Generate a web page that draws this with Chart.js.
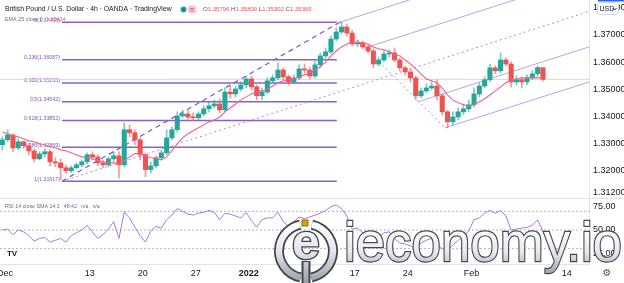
<!DOCTYPE html>
<html>
<head>
<meta charset="utf-8">
<script src="https://cdn.jsdelivr.net/npm/chart.js@4.4.1/dist/chart.umd.min.js"></script>
<style>
  html, body { margin: 0; padding: 0; background: #fff; overflow: hidden; }
  #wrap { position: relative; width: 624px; height: 283px; }
  #priceChart { position: absolute; left: 0; top: 0; }
  #rsiChart { position: absolute; left: 0; top: 198px; }
</style>
</head>
<body>
<div id="wrap">
  <canvas id="priceChart" width="624" height="198"></canvas>
  <canvas id="rsiChart" width="624" height="85"></canvas>
</div>
<script>
(function () {
    'use strict';

    // 12h slots, slot 0 = 1 Dec 2021 morning; first candle is the last half of 30 Nov
    const firstSlot = -1;

    const opens = [
        1.3296, 1.3314, 1.3332, 1.3284, 1.3307, 1.3292, 1.3273, 1.3244, 1.3262, 1.3270,
        1.3233, 1.3229, 1.3211, 1.3200, 1.3211, 1.3222, 1.3233, 1.3259, 1.3251, 1.3229,
        1.3222, 1.3244, 1.3255, 1.3222, 1.3351, 1.3340, 1.3314, 1.3259, 1.3204, 1.3218,
        1.3248, 1.3266, 1.3321, 1.3351, 1.3402, 1.3409, 1.3398, 1.3395, 1.3409, 1.3428,
        1.3439, 1.3446, 1.3424, 1.3490, 1.3483, 1.3501, 1.3516, 1.3538, 1.3509, 1.3476,
        1.3490, 1.3531, 1.3542, 1.3571, 1.3546, 1.3527, 1.3542, 1.3575, 1.3571, 1.3549,
        1.3590, 1.3623, 1.3638, 1.3685, 1.3711, 1.3729, 1.3707, 1.3667, 1.3671, 1.3656,
        1.3641, 1.3593, 1.3608, 1.3630, 1.3634, 1.3608, 1.3579, 1.3564, 1.3542, 1.3476,
        1.3494, 1.3505, 1.3512, 1.3476, 1.3417, 1.3380, 1.3398, 1.3417, 1.3428, 1.3443,
        1.3483, 1.3512, 1.3535, 1.3579, 1.3568, 1.3608, 1.3593, 1.3527, 1.3535, 1.3527,
        1.3542, 1.3557, 1.35796
    ];
    const highs = [
        1.3325, 1.3351, 1.3336, 1.3318, 1.3310, 1.3299, 1.3281, 1.3270, 1.3281, 1.3277,
        1.3248, 1.3244, 1.3222, 1.3218, 1.3229, 1.3240, 1.3266, 1.3270, 1.3259, 1.3240,
        1.3251, 1.3270, 1.3270, 1.3376, 1.3369, 1.3351, 1.3321, 1.3266, 1.3233, 1.3255,
        1.3277, 1.3351, 1.3362, 1.3417, 1.3424, 1.3421, 1.3413, 1.3417, 1.3439, 1.3454,
        1.3461, 1.3465, 1.3505, 1.3512, 1.3512, 1.3527, 1.3549, 1.3549, 1.3516, 1.3505,
        1.3542, 1.3553, 1.3597, 1.3579, 1.3553, 1.3553, 1.3590, 1.3593, 1.3582, 1.3604,
        1.3634, 1.3652, 1.3696, 1.3726, 1.3748, 1.3740, 1.3718, 1.3682, 1.3678, 1.3663,
        1.3649, 1.3619, 1.3641, 1.3645, 1.3652, 1.3615, 1.3586, 1.3575, 1.3549, 1.3505,
        1.3520, 1.3527, 1.3535, 1.3483, 1.3424, 1.3417, 1.3432, 1.3446, 1.3461, 1.3505,
        1.3524, 1.3546, 1.3593, 1.3586, 1.3634, 1.3615, 1.3601, 1.3549, 1.3546, 1.3553,
        1.3568, 1.3586, 1.35800
    ];
    const lows = [
        1.3277, 1.3307, 1.3270, 1.3277, 1.3281, 1.3259, 1.3233, 1.3240, 1.3251, 1.3218,
        1.3215, 1.3167, 1.3189, 1.3193, 1.3207, 1.3215, 1.3226, 1.3240, 1.3218, 1.3211,
        1.3215, 1.3233, 1.3174, 1.3215, 1.3325, 1.3296, 1.3240, 1.3178, 1.3193, 1.3211,
        1.3240, 1.3259, 1.3314, 1.3343, 1.3395, 1.3391, 1.3384, 1.3387, 1.3402, 1.3417,
        1.3432, 1.3413, 1.3417, 1.3468, 1.3472, 1.3494, 1.3505, 1.3498, 1.3461, 1.3461,
        1.3483, 1.3524, 1.3535, 1.3535, 1.3516, 1.3520, 1.3535, 1.3560, 1.3538, 1.3542,
        1.3582, 1.3615, 1.3630, 1.3678, 1.3704, 1.3696, 1.3660, 1.3656, 1.3649, 1.3634,
        1.3579, 1.3586, 1.3601, 1.3619, 1.3601, 1.3568, 1.3553, 1.3527, 1.3461, 1.3468,
        1.3487, 1.3498, 1.3461, 1.3406, 1.3358, 1.3369, 1.3387, 1.3406, 1.3417, 1.3435,
        1.3472, 1.3505, 1.3527, 1.3557, 1.3560, 1.3586, 1.3509, 1.3516, 1.3505, 1.3516,
        1.3535, 1.3549, 1.35302
    ];
    const closes = [
        1.3314, 1.3332, 1.3284, 1.3307, 1.3292, 1.3273, 1.3244, 1.3262, 1.3270, 1.3233,
        1.3229, 1.3211, 1.3200, 1.3211, 1.3222, 1.3233, 1.3259, 1.3251, 1.3229, 1.3222,
        1.3244, 1.3255, 1.3222, 1.3351, 1.3340, 1.3314, 1.3259, 1.3204, 1.3218, 1.3248,
        1.3266, 1.3321, 1.3351, 1.3402, 1.3409, 1.3398, 1.3395, 1.3409, 1.3428, 1.3439,
        1.3446, 1.3424, 1.3490, 1.3483, 1.3501, 1.3516, 1.3538, 1.3509, 1.3476, 1.3490,
        1.3531, 1.3542, 1.3571, 1.3546, 1.3527, 1.3542, 1.3575, 1.3571, 1.3549, 1.3590,
        1.3623, 1.3638, 1.3685, 1.3711, 1.3729, 1.3707, 1.3667, 1.3671, 1.3656, 1.3641,
        1.3593, 1.3608, 1.3630, 1.3634, 1.3608, 1.3579, 1.3564, 1.3542, 1.3476, 1.3494,
        1.3505, 1.3512, 1.3476, 1.3417, 1.3380, 1.3398, 1.3417, 1.3428, 1.3443, 1.3483,
        1.3512, 1.3535, 1.3579, 1.3568, 1.3608, 1.3593, 1.3527, 1.3535, 1.3527, 1.3542,
        1.3557, 1.3580, 1.35365
    ];
    const ema25 = [
        1.3343, 1.3336, 1.3329, 1.3325, 1.3318, 1.3310, 1.3307, 1.3299, 1.3296, 1.3288,
        1.3285, 1.3277, 1.3274, 1.3266, 1.3259, 1.3251, 1.3248, 1.3244, 1.3237, 1.3233,
        1.3229, 1.3229, 1.3226, 1.3237, 1.3251, 1.3263, 1.3263, 1.3255, 1.3248, 1.3244,
        1.3240, 1.3251, 1.3274, 1.3299, 1.3321, 1.3336, 1.3347, 1.3358, 1.3369, 1.3380,
        1.3387, 1.3398, 1.3417, 1.3432, 1.3446, 1.3461, 1.3472, 1.3483, 1.3490, 1.3494,
        1.3501, 1.3512, 1.3524, 1.3531, 1.3535, 1.3538, 1.3546, 1.3553, 1.3560, 1.3571,
        1.3582, 1.3601, 1.3623, 1.3641, 1.3656, 1.3667, 1.3674, 1.3674, 1.3671, 1.3667,
        1.3656, 1.3649, 1.3645, 1.3638, 1.3630, 1.3623, 1.3608, 1.3593, 1.3575, 1.3557,
        1.3538, 1.3531, 1.3524, 1.3505, 1.3479, 1.3461, 1.3450, 1.3443, 1.3439, 1.3443,
        1.3454, 1.3465, 1.3479, 1.3494, 1.3509, 1.3524, 1.3535, 1.3538, 1.3542, 1.3542,
        1.3542, 1.3542, 1.35434
    ];
    const rsi14 = [
        50, 51, 45, 50, 48, 44, 38, 41, 42, 37,
        39, 41, 37, 44, 47, 50, 55, 48, 41, 45,
        51, 59, 41, 69, 63, 53, 44, 37, 49, 54,
        52, 61, 66, 73, 70, 67, 66, 68, 69, 71,
        69, 61, 68, 67, 65, 63, 69, 60, 53, 61,
        63, 63, 69, 59, 54, 59, 64, 62, 64, 66,
        68, 71, 75, 77, 73, 65, 51, 52, 47, 47,
        44, 42, 47, 48, 41, 36, 35, 33, 30, 36,
        39, 41, 35, 30, 28, 34, 39, 44, 49, 61,
        63, 68, 71, 68, 71, 65, 50, 51, 52, 53,
        55, 61, 48.42
    ];

    const priceTicks = [1.312, 1.32, 1.33, 1.34, 1.35, 1.36, 1.37, 1.38];
    const rsiTicks = [25, 50, 75];
    const rsiBands = [70, 50, 30];
    const timeTickSlots = [0, 16, 26, 36, 46, 66, 76, 88, 106];
    const timeTickLabels = ['Dec', '13', '20', '27', '2022', '17', '24', 'Feb', '14'];

    const fibRatios = [0, 0.236, 0.382, 0.5, 0.618, 0.786, 1];
    const fibPrices = [1.37468, 1.36087, 1.35233, 1.34542, 1.33852, 1.32869, 1.31617];
    const fibSpan = [10.75, 62.6];

    // drawing anchors as [slot, price]
    const legUp = [[10.75, 1.31617], [63.2, 1.37468]];
    const medianLine = [[10.75, 1.31617], [110.4, 1.3788]];
    const legDown = [[63.2, 1.37468], [83.0, 1.3358]];
    const channelLines = [
        [[63.2, 1.37468], [80.0, 1.3852]],
        [[68.5, 1.36559], [100.0, 1.3853]],
        [[77.9, 1.34536], [110.2, 1.3656]],
        [[83.0, 1.3358], [110.4, 1.3528]]
    ];
    const lastClose = 1.35365;

    const FONT = '"Liberation Sans", Arial, sans-serif';
    const UP = '#26a69a', DOWN = '#ef5350';
    const X_MIN = -0.943, X_MAX = 110.19;

    Chart.defaults.font.family = FONT;

    const slotX = k => firstSlot + k + 0.5;
    const isUp = k => closes[k] >= opens[k];

    function seg(points, color, width, dash, order) {
        return {
            type: 'line',
            data: points.map(p => ({ x: p[0], y: p[1] })),
            borderColor: color, borderWidth: width, borderDash: dash || [],
            pointRadius: 0, tension: 0, order: order
        };
    }

    function fitSize(ctx, text, width, weight) {
        ctx.font = `${weight || ''} 10px ${FONT}`;
        return 10 * width / ctx.measureText(text).width;
    }

    const priceDecor = {
        id: 'priceDecor',
        beforeDatasetsDraw(chart) {
            const { ctx, scales: { x, y } } = chart;
            ctx.save();
            const size = fitSize(ctx, '0.236(1.36087)', 36);
            ctx.font = `${size}px ${FONT}`;
            ctx.fillStyle = '#7e57c2';
            ctx.textAlign = 'right';
            ctx.textBaseline = 'alphabetic';
            const xl = x.getPixelForValue(fibSpan[0]) - 2;
            fibRatios.forEach((r, k) => {
                ctx.fillText(`${r}(${fibPrices[k].toFixed(5)})`, xl, y.getPixelForValue(fibPrices[k]) - 0.5);
            });
            ctx.restore();
        },
        afterDraw(chart) {
            const ctx = chart.ctx;
            ctx.save();
            ctx.textBaseline = 'middle';
            ctx.textAlign = 'left';

            const title = 'British Pound / U.S. Dollar · 4h · OANDA · TradingView';
            ctx.font = `${fitSize(ctx, title, 167)}px ${FONT}`;
            ctx.fillStyle = '#131722';
            ctx.fillText(title, 5, 9.5);

            ctx.fillStyle = UP;
            ctx.beginPath(); ctx.arc(183.5, 9.5, 3, 0, Math.PI * 2); ctx.fill();
            ctx.fillStyle = '#0b6b5f';
            ctx.beginPath(); ctx.arc(183.5, 9.5, 1.1, 0, Math.PI * 2); ctx.fill();
            ctx.fillStyle = '#f8c8d3';
            ctx.beginPath(); ctx.roundRect(188, 5.5, 8, 8, 2); ctx.fill();
            ctx.fillStyle = '#e0607e';
            ctx.fillRect(190, 8, 4, 0.9); ctx.fillRect(190, 10.3, 4, 0.9);

            const ohlc = [['O', '#4a4e59'], ['1.35796', DOWN], [' H', '#4a4e59'], ['1.35800', DOWN],
                          [' L', '#4a4e59'], ['1.35302', DOWN], [' C', '#4a4e59'], ['1.35365', DOWN]];
            ctx.font = `${fitSize(ctx, ohlc.map(s => s[0]).join(''), 109)}px ${FONT}`;
            let px = 203;
            ohlc.forEach(([t, c]) => { ctx.fillStyle = c; ctx.fillText(t, px, 9.5); px += ctx.measureText(t).width; });

            const emaTxt = 'EMA 25 close 0';
            ctx.font = `${fitSize(ctx, emaTxt, 38)}px ${FONT}`;
            ctx.fillStyle = '#6a6d78';
            ctx.fillText(emaTxt, 5, 19.5);
            ctx.fillStyle = '#f06292';
            ctx.fillText(ema25[ema25.length - 1].toFixed(5), 5 + ctx.measureText(emaTxt).width + 3, 19.5);

            // currency badge on the price axis
            ctx.fillStyle = '#ffffff';
            ctx.strokeStyle = '#d1d4dc';
            ctx.lineWidth = 1;
            ctx.beginPath(); ctx.roundRect(597.5, 2.5, 21, 12, 2); ctx.fill(); ctx.stroke();
            ctx.fillStyle = '#131722';
            ctx.font = `7px ${FONT}`;
            ctx.fillText('USD', 599.5, 9);
            ctx.strokeStyle = '#131722';
            ctx.beginPath(); ctx.moveTo(612.5, 8); ctx.lineTo(614.5, 10); ctx.lineTo(616.5, 8); ctx.stroke();

            ctx.fillStyle = '#2962ff';
            ctx.fillRect(598, 0, 26, 1.5);
            ctx.restore();
        }
    };

    function drawWatermark(ctx) {
        const oy = -198;
        ctx.save();
        const cx = 306, cy = 251 + oy, r = 27;
        const grad = ctx.createLinearGradient(0, cy - r - 4, 0, cy + r + 4);
        grad.addColorStop(0, '#ffffff');
        grad.addColorStop(0.5, '#e4e6ea');
        grad.addColorStop(1, '#9aa1aa');
        const arcs = [[-Math.PI / 2 + 0.22, Math.PI / 2 - 0.2], [Math.PI / 2 + 0.2, 3 * Math.PI / 2 - 0.22]];
        ctx.lineCap = 'butt';
        ctx.strokeStyle = '#3f444b'; ctx.lineWidth = 10;
        arcs.forEach(a => { ctx.beginPath(); ctx.arc(cx, cy, r, a[0], a[1]); ctx.stroke(); });
        ctx.strokeStyle = grad; ctx.lineWidth = 6.5;
        arcs.forEach(a => { ctx.beginPath(); ctx.arc(cx, cy, r, a[0], a[1]); ctx.stroke(); });

        ctx.fillStyle = '#3f444b'; ctx.fillRect(cx - 4.5, cy + 10, 9, 23);
        ctx.fillStyle = grad; ctx.fillRect(cx - 2.5, cy + 11, 5, 22);

        ctx.font = `bold 50px ${FONT}`;
        ctx.textAlign = 'center';
        ctx.textBaseline = 'middle';
        ctx.lineWidth = 2.5; ctx.strokeStyle = '#3f444b';
        ctx.strokeText('e', cx, cy - 6);
        ctx.fillStyle = grad;
        ctx.fillText('e', cx, cy - 6);

        ctx.fillStyle = '#e2a400';
        ctx.fillRect(cx - 4, 220 + oy, 6, 6);
        ctx.strokeStyle = '#6b5200'; ctx.lineWidth = 0.8;
        ctx.strokeRect(cx - 4, 220 + oy, 6, 6);

        const word = 'ieconomy.io';
        ctx.font = `56px ${FONT}`;
        ctx.textAlign = 'left';
        ctx.textBaseline = 'alphabetic';
        const w = ctx.measureText(word).width;
        ctx.translate(344, 261 + oy);
        ctx.scale(278 / w, 1);
        const tg = ctx.createLinearGradient(0, -34, 0, 12);
        tg.addColorStop(0, '#ffffff');
        tg.addColorStop(0.55, '#e6e8ec');
        tg.addColorStop(1, '#a0a6ae');
        ctx.lineWidth = 2.4; ctx.strokeStyle = '#464b52';
        ctx.strokeText(word, 0, 0);
        ctx.fillStyle = tg;
        ctx.fillText(word, 0, 0);
        ctx.restore();
    }

    const rsiDecor = {
        id: 'rsiDecor',
        beforeDraw(chart) {
            const ctx = chart.ctx;
            ctx.save();
            ctx.strokeStyle = '#e0e3eb';
            ctx.lineWidth = 1;
            ctx.beginPath(); ctx.moveTo(0, 0.5); ctx.lineTo(624, 0.5); ctx.stroke();
            ctx.restore();
        },
        afterDraw(chart) {
            const ctx = chart.ctx;
            ctx.save();
            ctx.textBaseline = 'middle';
            ctx.textAlign = 'left';
            const lbl = 'RSI 14 close SMA 14 2';
            ctx.font = `${fitSize(ctx, lbl, 55)}px ${FONT}`;
            ctx.fillStyle = '#6a6d78';
            ctx.fillText(lbl, 5, 8.5);
            let px = 5 + ctx.measureText(lbl).width + 4;
            const val = rsi14[rsi14.length - 1].toFixed(2);
            ctx.fillStyle = '#7e57c2';
            ctx.fillText(val, px, 8.5);
            px += ctx.measureText(val).width + 4;
            ctx.fillStyle = '#6a6d78';
            ctx.fillText('n/a', px, 8.5);
            px += ctx.measureText('n/a').width + 4;
            ctx.fillText('n/a', px, 8.5);

            ctx.fillStyle = '#131722';
            ctx.font = `bold 8px ${FONT}`;
            ctx.textAlign = 'center';
            ctx.fillText('TV', 12, 56);
            ctx.font = '10px "DejaVu Sans", sans-serif';
            ctx.fillStyle = '#50535e';
            ctx.fillText('⚙', 607, 75);

            drawWatermark(ctx);
            ctx.restore();
        }
    };

    const bodyColors = opens.map((o, k) => isUp(k) ? UP : DOWN);
    const wickColors = opens.map((o, k) => isUp(k) ? 'rgba(38,166,154,0.6)' : 'rgba(239,83,80,0.6)');

    const priceDatasets = [
        {
            type: 'line',
            data: ema25.map((v, k) => ({ x: slotX(k), y: v })),
            borderColor: '#f06292', borderWidth: 1.1, pointRadius: 0, tension: 0, order: 0
        },
        {
            type: 'bar',
            data: opens.map((o, k) => ({ x: slotX(k), y: [o, closes[k]] })),
            backgroundColor: bodyColors, barThickness: 4.4, minBarLength: 1, grouped: false, order: 1
        },
        {
            type: 'bar',
            data: lows.map((l, k) => ({ x: slotX(k), y: [l, highs[k]] })),
            backgroundColor: wickColors, barThickness: 1, grouped: false, order: 2
        }
    ];
    fibPrices.forEach(p => {
        priceDatasets.push(seg([[fibSpan[0], p], [fibSpan[1], p]], '#8562d0', 1.5, null, 3));
    });
    channelLines.forEach(l => priceDatasets.push(seg(l, '#b7a4e6', 1, null, 4)));
    priceDatasets.push(seg(legUp, '#7e57c2', 1.2, [5, 4], 4));
    priceDatasets.push(seg(medianLine, '#a48fe0', 1, [2, 3], 4));
    priceDatasets.push(seg(legDown, '#a48fe0', 1, [2, 3], 4));
    priceDatasets.push(seg([[X_MIN - 1, lastClose], [X_MAX + 1, lastClose]], '#f9caca', 1, null, 5));

    new Chart(document.getElementById('priceChart'), {
        type: 'bar',
        data: { datasets: priceDatasets },
        options: {
            responsive: false,
            devicePixelRatio: 1,
            animation: false,
            events: [],
            layout: { padding: 0 },
            plugins: { legend: { display: false }, tooltip: { enabled: false } },
            scales: {
                x: { type: 'linear', min: X_MIN, max: X_MAX, offset: false, display: false },
                y: {
                    type: 'linear', position: 'right', min: 1.30997, max: 1.38287, bounds: 'data',
                    afterBuildTicks: s => { s.ticks = priceTicks.map(v => ({ value: v })); },
                    afterFit: s => { s.width = 35; s.paddingTop = 0; s.paddingBottom = 0; },
                    grid: { display: false, drawTicks: false },
                    border: { display: true, color: '#e0e3eb' },
                    ticks: {
                        autoSkip: false, padding: 4, color: '#131722',
                        font: { size: 9, family: FONT },
                        callback: v => v.toFixed(5)
                    }
                }
            }
        },
        plugins: [priceDecor]
    });

    const rsiDatasets = [
        {
            type: 'line',
            data: rsi14.map((v, k) => ({ x: slotX(k), y: v })),
            borderColor: '#9c7fe0', borderWidth: 1, pointRadius: 0, tension: 0, order: 0
        }
    ];
    rsiBands.forEach(v => {
        rsiDatasets.push(seg([[X_MIN, v], [X_MAX, v]], '#b2b5be', 1, [2, 2], 1));
    });

    new Chart(document.getElementById('rsiChart'), {
        type: 'line',
        data: { datasets: rsiDatasets },
        options: {
            responsive: false,
            devicePixelRatio: 1,
            animation: false,
            events: [],
            layout: { padding: { top: 1 } },
            plugins: { legend: { display: false }, tooltip: { enabled: false } },
            scales: {
                x: {
                    type: 'linear', min: X_MIN, max: X_MAX, offset: false, bounds: 'data',
                    afterBuildTicks: s => { s.ticks = timeTickSlots.map(v => ({ value: v })); },
                    afterFit: s => { s.height = 19; s.paddingLeft = 0; s.paddingRight = 0; },
                    grid: { display: false, drawTicks: false },
                    border: { display: true, color: '#e0e3eb' },
                    ticks: {
                        autoSkip: false, maxRotation: 0, padding: 4, color: '#131722',
                        font: c => ({ size: 9, family: FONT, weight: c.tick && c.tick.value === 46 ? 'bold' : 'normal' }),
                        callback: v => timeTickLabels[timeTickSlots.indexOf(v)]
                    }
                },
                y: {
                    type: 'linear', position: 'right', min: 13.52, max: 83.26, bounds: 'data',
                    afterBuildTicks: s => { s.ticks = rsiTicks.map(v => ({ value: v })); },
                    afterFit: s => { s.width = 35; s.paddingTop = 0; s.paddingBottom = 0; },
                    grid: { display: false, drawTicks: false },
                    border: { display: true, color: '#e0e3eb' },
                    ticks: {
                        autoSkip: false, padding: 4, color: '#131722',
                        font: { size: 9, family: FONT },
                        callback: v => v.toFixed(2)
                    }
                }
            }
        },
        plugins: [rsiDecor]
    });
})();
</script>
</body>
</html>
